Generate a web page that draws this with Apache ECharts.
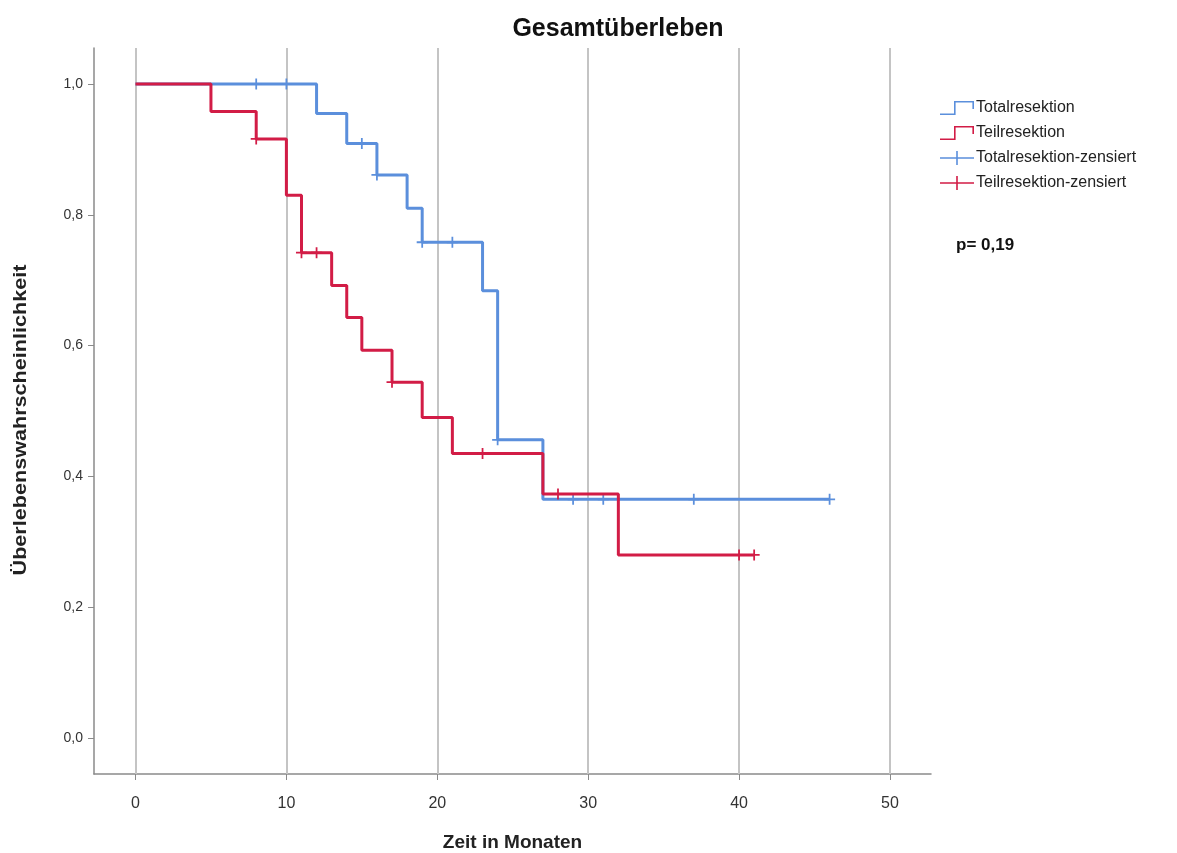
<!DOCTYPE html>
<html>
<head>
<meta charset="utf-8">
<script src="https://cdn.jsdelivr.net/npm/echarts@6/dist/echarts.min.js"></script>
<style>
  html, body { margin: 0; padding: 0; background: #fff; }
  #main { width: 1177px; height: 853px; }
</style>
</head>
<body>
<div id="main"></div>
<script>
// Kaplan-Meier Stufen (Zeitpunkt der Änderung, Überlebenswahrscheinlichkeit ab dort)
var totalTimes = [0, 12, 14, 16, 18, 19, 23, 24, 27, 46]
var totalSurv = [1.0, 0.955, 0.909, 0.861, 0.81, 0.758, 0.684, 0.456, 0.365, 0.365]
var totalCensored = [8, 10, 15, 16, 19, 21, 24, 29, 31, 37, 46]

var teilTimes = [0, 5, 8, 10, 11, 13, 14, 15, 17, 19, 21, 27, 32, 41]
var teilSurv = [1.0, 0.958, 0.916, 0.83, 0.742, 0.692, 0.643, 0.593, 0.544, 0.49, 0.435, 0.373, 0.28, 0.28]
var teilCensored = [8, 11, 12, 17, 23, 28, 40, 41]

var xTicks = [0, 10, 20, 30, 40, 50]
var yTicks = [0, 0.2, 0.4, 0.6, 0.8, 1.0]

var blue = '#5b8fdc'
var red = '#d21c46'

function pairs (times, vals) {
  return times.map(function (t, i) { return [t, vals[i]] })
}
// Wert der Stufenfunktion beim Zeitpunkt t
function survAt (times, vals, t) {
  var v = vals[0]
  for (var i = 0; i < times.length; i++) {
    if (times[i] <= t) v = vals[i]
  }
  return v
}
function censorPoints (cens, times, vals) {
  return cens.map(function (t) { return [t, survAt(times, vals, t)] })
}

var crossPath = 'path://M0,4.2H10V5.8H0Z M4.2,0H5.8V10H4.2Z'
var stepIcon = 'path://M0,12.4H14V0H34V8H32.4V1.6H15.6V14H0Z'
var crossIcon = 'path://M0,6.2H34V7.8H0Z M16.2,0H17.8V14H16.2Z'

var myChart = echarts.init(document.getElementById('main'))
myChart.setOption({
  animation: false,
  grid: {
    left: 94,
    top: 48,
    right: 246,
    bottom: 79,
    containLabel: false,
    outerBoundsMode: 'none'
  },
  graphic: [
    {
      type: 'text',
      x: 618,
      y: 29,
      style: {
        text: 'Gesamtüberleben',
        font: 'bold 25px "Liberation Sans", Arial, sans-serif',
        fill: '#111',
        textAlign: 'center',
        textVerticalAlign: 'middle'
      }
    },
    {
      type: 'text',
      x: 956,
      y: 245,
      style: {
        text: 'p= 0,19',
        font: 'bold 17px "Liberation Sans", Arial, sans-serif',
        fill: '#111',
        textVerticalAlign: 'middle'
      }
    },
    {
      // Achsentitel y, leicht gestreckt wie im Original
      type: 'text',
      x: 21,
      y: 420,
      rotation: Math.PI / 2,
      scaleX: 1.2,
      style: {
        text: 'Überlebenswahrscheinlichkeit',
        font: 'bold 18px "Liberation Sans", Arial, sans-serif',
        fill: '#222',
        textAlign: 'center',
        textVerticalAlign: 'middle'
      }
    }
  ],
  legend: {
    orient: 'vertical',
    left: 935,
    top: 95,
    itemWidth: 34,
    itemHeight: 14,
    itemGap: 9,
    textStyle: {
      fontFamily: '"Liberation Sans", Arial, sans-serif',
      fontSize: 16,
      color: '#222',
      padding: [0, 0, 0, -3]
    },
    data: [
      { name: 'Totalresektion', icon: stepIcon },
      { name: 'Teilresektion', icon: stepIcon },
      { name: 'Totalresektion-zensiert', icon: crossIcon },
      { name: 'Teilresektion-zensiert', icon: crossIcon }
    ]
  },
  xAxis: {
    type: 'value',
    min: -2.75,
    max: 52.72,
    name: 'Zeit in Monaten',
    nameLocation: 'middle',
    nameGap: 59,
    nameTextStyle: {
      fontFamily: '"Liberation Sans", Arial, sans-serif',
      fontWeight: 'bold',
      fontSize: 19,
      color: '#222'
    },
    axisLine: { onZero: false, lineStyle: { color: '#8a8a8a', width: 1.5 } },
    axisTick: {
      customValues: xTicks,
      length: 6,
      inside: false,
      lineStyle: { color: '#8a8a8a' }
    },
    axisLabel: {
      customValues: xTicks,
      margin: 22,
      fontFamily: '"Liberation Sans", Arial, sans-serif',
      fontSize: 16,
      color: '#333'
    },
    splitLine: { show: false }
  },
  yAxis: {
    type: 'value',
    min: -0.055,
    max: 1.055,
    axisLine: { show: true, onZero: false, lineStyle: { color: '#8a8a8a', width: 1.5 } },
    axisTick: {
      show: true,
      customValues: yTicks,
      length: 6,
      lineStyle: { color: '#8a8a8a' }
    },
    axisLabel: {
      customValues: yTicks,
      margin: 11,
      fontFamily: '"Liberation Sans", Arial, sans-serif',
      fontSize: 14,
      color: '#333',
      formatter: function (v) { return v.toFixed(1).replace('.', ',') }
    },
    splitLine: { show: false }
  },
  series: [
    {
      name: 'Totalresektion',
      type: 'line',
      step: 'end',
      data: pairs(totalTimes, totalSurv),
      showSymbol: false,
      symbol: 'none',
      color: blue,
      lineStyle: { color: blue, width: 3 },
      z: 3,
      markLine: {
        silent: true,
        symbol: 'none',
        label: { show: false },
        lineStyle: { color: '#c4c4c4', width: 2, type: 'solid' },
        data: xTicks.map(function (t) { return { xAxis: t } }),
        z: 1
      }
    },
    {
      name: 'Teilresektion',
      type: 'line',
      step: 'end',
      data: pairs(teilTimes, teilSurv),
      showSymbol: false,
      symbol: 'none',
      color: red,
      lineStyle: { color: red, width: 3 },
      z: 5
    },
    {
      name: 'Totalresektion-zensiert',
      type: 'scatter',
      data: censorPoints(totalCensored, totalTimes, totalSurv),
      symbol: crossPath,
      symbolSize: 11,
      itemStyle: { color: blue, opacity: 1 },
      z: 4
    },
    {
      name: 'Teilresektion-zensiert',
      type: 'scatter',
      data: censorPoints(teilCensored, teilTimes, teilSurv),
      symbol: crossPath,
      symbolSize: 11,
      itemStyle: { color: red, opacity: 1 },
      z: 6
    }
  ]
})
</script>
</body>
</html>
